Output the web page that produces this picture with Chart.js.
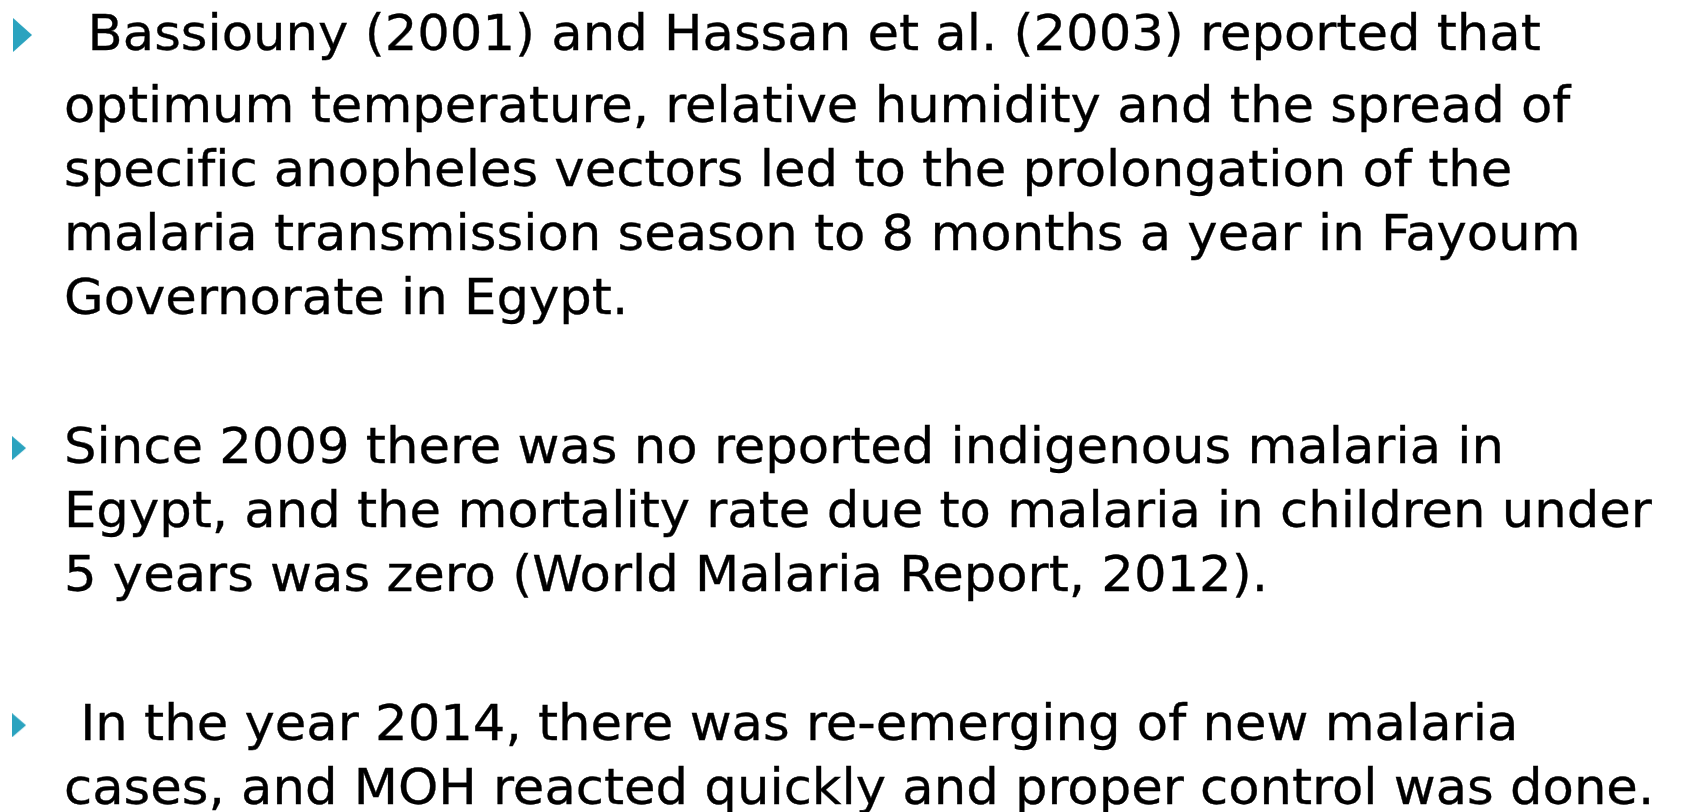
<!DOCTYPE html>
<html>
<head>
<meta charset="utf-8">
<script src="https://cdn.jsdelivr.net/npm/chart.js@4.4.1/dist/chart.umd.min.js"></script>
<style>
    html, body { margin: 0; padding: 0; background: #fff; overflow: hidden; }
    #slide { position: relative; width: 1682px; height: 812px; }
    #bullets { position: absolute; left: 0; top: 0; }
    .line {
        position: absolute;
        white-space: pre;
        font-family: "DejaVu Sans Condensed", "DejaVu Sans", sans-serif;
        font-size: 49px;
        line-height: 1.2;
        color: #000;
        font-variant-ligatures: none;
        -webkit-text-stroke: 0.3px #000;
        transform-origin: 0 0;
    }
    .p0 .lead { font-size: 1.45em; }
    .mark { display: inline-block; width: 0; height: 0; vertical-align: baseline; }
</style>
</head>
<body>
<div id="slide">
    <canvas id="bullets" width="1682" height="812"></canvas>
</div>
<script>
const bullet1Lines = [
    " Bassiouny (2001) and Hassan et al. (2003) reported that",
    "optimum temperature, relative humidity and the spread of",
    "specific anopheles vectors led to the prolongation of the",
    "malaria transmission season to 8 months a year in Fayoum",
    "Governorate in Egypt.",
];
const bullet2Lines = [
    "Since 2009 there was no reported indigenous malaria in",
    "Egypt, and the mortality rate due to malaria in children under",
    "5 years was zero (World Malaria Report, 2012).",
];
const bullet3Lines = [
    " In the year 2014, there was re-emerging of new malaria",
    "cases, and MOH reacted quickly and proper control was done.",
];
const bullets = [bullet1Lines, bullet2Lines, bullet3Lines];

// layout (slide units): x in % of width, y in line slots
const paraGap = 1.33;
const bigLeadExtra = 0.125;
const bulletX = [1.34, 1.13, 1.13];
const textX = 3.78;
const baselineDrop = 15;
const widestLinePx = 1590;

// line slots for every line, and the slot of each bullet
const lineSlots = [];
const bulletSlots = [];
let cursor = 0;
bullets.forEach((lines, p) => {
    bulletSlots.push(cursor);
    lines.forEach((text, i) => {
        lineSlots.push({ p: p, text: text, slot: cursor });
        cursor += 1;
        if (p === 0 && i === 0) cursor += bigLeadExtra;
    });
    cursor += paraGap;
});

function triangle(w, h) {
    const c = document.createElement("canvas");
    c.width = w;
    c.height = h;
    const g = c.getContext("2d");
    g.fillStyle = "#2ba3bf";
    g.beginPath();
    g.moveTo(0, 0);
    g.lineTo(w, h / 2);
    g.lineTo(0, h);
    g.closePath();
    g.fill();
    return c;
}

const bigBullet = triangle(19, 34);
const smallBullet = triangle(14, 24);

const ctx = document.getElementById("bullets");

let chart = new Chart(ctx, {
    type: "scatter",
    data: {
        datasets: [
            {
                label: "bullets",
                data: bulletSlots.map((s, i) => ({ x: bulletX[i], y: s })),
                pointStyle: bulletSlots.map((s, i) => (i === 0 ? bigBullet : smallBullet)),
                pointRadius: 12,
                pointHoverRadius: 12,
            },
        ],
    },
    options: {
        responsive: false,
        animation: false,
        events: [],
        layout: { padding: 0, autoPadding: false },
        scales: {
            x: { type: "linear", display: false, min: 0, max: 100 },
            y: { type: "linear", display: false, reverse: true, min: -35 / 64, max: -35 / 64 + 812 / 64 },
        },
        plugins: {
            legend: { display: false },
            tooltip: { enabled: false },
        },
    },
});

// text lines, placed on the chart's own scales
const slide = document.getElementById("slide");
const xs = chart.scales.x;
const ys = chart.scales.y;
const divs = lineSlots.map((l) => {
    const d = document.createElement("div");
    d.className = "line p" + l.p;
    const m = l.text.match(/^( *)(.*)$/);
    if (m[1]) {
        const lead = document.createElement("span");
        lead.className = "lead";
        lead.textContent = m[1];
        d.appendChild(lead);
    }
    d.appendChild(document.createTextNode(m[2]));
    const mark = document.createElement("span");
    mark.className = "mark";
    d.appendChild(mark);
    slide.appendChild(d);
    return { d: d, mark: mark, slot: l.slot };
});

const widest = Math.max(...divs.map((o) => o.d.offsetWidth));
const k = widestLinePx / widest;

divs.forEach((o) => {
    const base = ys.getPixelForValue(o.slot) + baselineDrop;
    o.d.style.left = xs.getPixelForValue(textX) + "px";
    o.d.style.top = (base - o.mark.offsetTop) + "px";
    o.d.style.transform = "scaleX(" + k + ")";
});
</script>
</body>
</html>
